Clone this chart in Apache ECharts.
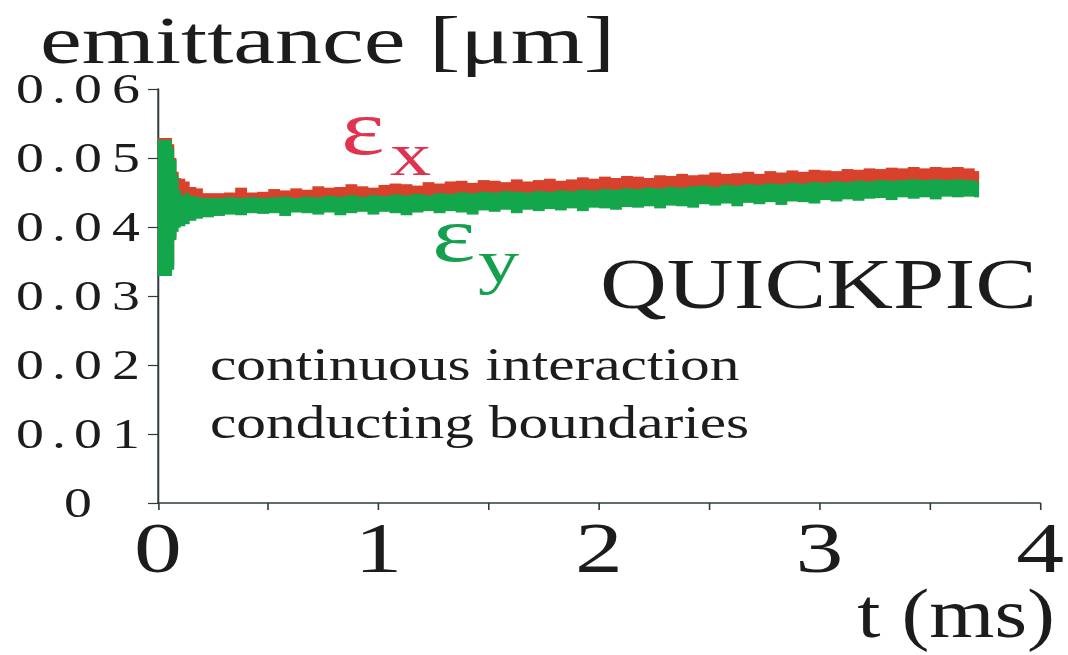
<!DOCTYPE html>
<html>
<head>
<meta charset="utf-8">
<script src="https://cdn.jsdelivr.net/npm/echarts@6/dist/echarts.min.js"></script>
<style>
  html, body { margin: 0; padding: 0; background: #ffffff; overflow: hidden; }
  #chart { height: 655px; transform-origin: 0 0; }
</style>
</head>
<body>
<div id="chart"></div>
<script>
// Sample start times (ms); each sample spans to the next start time, the last one to T_END.
const T = [0, 0.06, 0.07, 0.08, 0.09, 0.10, 0.12, 0.14, 0.17, 0.20,
  0.25, 0.30, 0.35, 0.40, 0.45, 0.50, 0.55, 0.60, 0.65, 0.70,
  0.75, 0.80, 0.85, 0.90, 0.95, 1.00, 1.05, 1.10, 1.15, 1.20,
  1.25, 1.30, 1.35, 1.40, 1.45, 1.50, 1.55, 1.60, 1.65, 1.70,
  1.75, 1.80, 1.85, 1.90, 1.95, 2.00, 2.05, 2.10, 2.15, 2.20,
  2.25, 2.30, 2.35, 2.40, 2.45, 2.50, 2.55, 2.60, 2.65, 2.70,
  2.75, 2.80, 2.85, 2.90, 2.95, 3.00, 3.05, 3.10, 3.15, 3.20,
  3.25, 3.30, 3.35, 3.40, 3.45, 3.50, 3.55, 3.60, 3.65, 3.70];
const T_END = 3.72;

// Horizontal emittance (epsilon_x): lower / upper edge of the noisy trace, in um
const exLo = [0.0335, 0.0345, 0.0385, 0.0400, 0.0440, 0.0438, 0.0440, 0.0437, 0.0436, 0.0435,
  0.0436, 0.0437, 0.0436, 0.0437, 0.0436, 0.0437, 0.0438, 0.0436, 0.0438, 0.0437,
  0.0439, 0.0438, 0.0440, 0.0438, 0.0440, 0.0439, 0.0441, 0.0440, 0.0442, 0.0440,
  0.0443, 0.0442, 0.0444, 0.0443, 0.0445, 0.0444, 0.0446, 0.0445, 0.0444, 0.0446,
  0.0445, 0.0447, 0.0446, 0.0448, 0.0447, 0.0449, 0.0448, 0.0450, 0.0449, 0.0451,
  0.0450, 0.0452, 0.0451, 0.0453, 0.0454, 0.0452, 0.0455, 0.0454, 0.0456, 0.0455,
  0.0457, 0.0456, 0.0458, 0.0457, 0.0459, 0.0458, 0.0460, 0.0459, 0.0461, 0.0460,
  0.0462, 0.0461, 0.0462, 0.0463, 0.0462, 0.0463, 0.0462, 0.0463, 0.0462, 0.0460];
const exHi = [0.0529, 0.0520, 0.0500, 0.0480, 0.0471, 0.0470, 0.0466, 0.0458, 0.0456, 0.0449,
  0.0449, 0.0450, 0.0457, 0.0450, 0.0451, 0.0455, 0.0453, 0.0456, 0.0454, 0.0459,
  0.0457, 0.0458, 0.0462, 0.0459, 0.0457, 0.0461, 0.0463, 0.0462, 0.0460, 0.0465,
  0.0463, 0.0466, 0.0467, 0.0464, 0.0468, 0.0467, 0.0465, 0.0469, 0.0466, 0.0468,
  0.0470, 0.0467, 0.0469, 0.0472, 0.0470, 0.0473, 0.0471, 0.0474, 0.0473, 0.0471,
  0.0475, 0.0474, 0.0477, 0.0475, 0.0476, 0.0479, 0.0477, 0.0478, 0.0480, 0.0477,
  0.0481, 0.0479, 0.0482, 0.0480, 0.0483, 0.0482, 0.0481, 0.0484, 0.0483, 0.0485,
  0.0484, 0.0486, 0.0485, 0.0487, 0.0485, 0.0487, 0.0486, 0.0487, 0.0485, 0.0481];

// Vertical emittance (epsilon_y): lower / upper edge of the noisy trace, in um
const eyLo = [0.0329, 0.0338, 0.0381, 0.0393, 0.0399, 0.0401, 0.0404, 0.0409, 0.0412, 0.0414,
  0.0416, 0.0418, 0.0417, 0.0420, 0.0419, 0.0420, 0.0416, 0.0421, 0.0420, 0.0418,
  0.0421, 0.0417, 0.0420, 0.0422, 0.0418, 0.0422, 0.0420, 0.0417, 0.0421, 0.0423,
  0.0420, 0.0423, 0.0421, 0.0418, 0.0424, 0.0422, 0.0425, 0.0420, 0.0425, 0.0423,
  0.0426, 0.0424, 0.0427, 0.0423, 0.0428, 0.0427, 0.0425, 0.0429, 0.0428, 0.0430,
  0.0427, 0.0431, 0.0430, 0.0428, 0.0433, 0.0431, 0.0434, 0.0430, 0.0435, 0.0433,
  0.0436, 0.0432, 0.0437, 0.0436, 0.0434, 0.0439, 0.0437, 0.0440, 0.0438, 0.0441,
  0.0442, 0.0439, 0.0443, 0.0441, 0.0443, 0.0440, 0.0444, 0.0443, 0.0444, 0.0443];
const eyHi = [0.0526, 0.0514, 0.0497, 0.0475, 0.0454, 0.0446, 0.0449, 0.0445, 0.0443, 0.0442,
  0.0442, 0.0443, 0.0442, 0.0443, 0.0442, 0.0443, 0.0444, 0.0442, 0.0444, 0.0443,
  0.0445, 0.0444, 0.0446, 0.0444, 0.0446, 0.0445, 0.0447, 0.0446, 0.0448, 0.0446,
  0.0449, 0.0448, 0.0450, 0.0449, 0.0451, 0.0450, 0.0452, 0.0451, 0.0450, 0.0452,
  0.0451, 0.0453, 0.0452, 0.0454, 0.0453, 0.0455, 0.0454, 0.0456, 0.0455, 0.0457,
  0.0456, 0.0458, 0.0457, 0.0459, 0.0460, 0.0458, 0.0461, 0.0460, 0.0462, 0.0461,
  0.0463, 0.0462, 0.0464, 0.0463, 0.0465, 0.0464, 0.0466, 0.0465, 0.0467, 0.0466,
  0.0468, 0.0467, 0.0468, 0.0469, 0.0468, 0.0469, 0.0468, 0.0469, 0.0468, 0.0466];

const X_MIN = 0, X_MAX = 4, X_STEP = 0.5;
const Y_MIN = 0, Y_MAX = 0.06, Y_STEP = 0.01;

// The figure uses a horizontally widened serif face; the whole drawing is laid
// out on a narrower canvas and widened by SX.
const SX = 1.33;
const PAGE_W = 1068, PAGE_H = 655;
const W = PAGE_W / SX;
const hx = v => v / SX;   // page x -> layout x

const el = document.getElementById('chart');
el.style.width = W + 'px';
el.style.transform = 'scaleX(' + SX + ')';

const SERIF = "'Liberation Serif', 'Times New Roman', serif";
const AXIS_COLOR = '#2c3b3a';
const TEXT_COLOR = '#1c1c1c';
const RED = '#d8412c';
const GREEN = '#13a64b';

function bandData(lo, hi) {
  return T.map((t, i) => [t, i + 1 < T.length ? T[i + 1] : T_END, lo[i], hi[i]]);
}

function bandRenderer(color) {
  return function (params, api) {
    const a = api.coord([api.value(0), api.value(3)]);
    const b = api.coord([api.value(1), api.value(2)]);
    return {
      type: 'rect',
      shape: { x: a[0], y: a[1], width: b[0] - a[0] + 0.6, height: b[1] - a[1] },
      style: { fill: color }
    };
  };
}

function yLabel(v) {
  if (v === 0) return '{d|0}';
  return v.toFixed(2).split('').map(c => c === '.' ? '{p|.}' : '{d|' + c + '}').join('');
}

function label(text, px, y, size, color, extra) {
  return Object.assign({
    type: 'text', x: hx(px), y: y,
    style: { text: text, font: size + 'px ' + SERIF, fill: color, verticalAlign: 'middle' }
  }, extra || {});
}

const chart = echarts.init(el, null, { renderer: 'svg', width: W, height: PAGE_H });

chart.setOption({
  animation: false,
  backgroundColor: '#ffffff',
  grid: { left: hx(158), right: W - hx(1050), top: 89, bottom: PAGE_H - 503, containLabel: false },
  xAxis: {
    type: 'value', min: X_MIN, max: X_MAX, interval: X_STEP,
    splitLine: { show: false },
    axisLine: { lineStyle: { color: AXIS_COLOR, width: 1.5 } },
    axisTick: { length: 7, lineStyle: { color: AXIS_COLOR, width: 1.2 } },
    axisLabel: {
      margin: 9, fontFamily: SERIF, fontSize: 72, color: TEXT_COLOR,
      formatter: v => Number.isInteger(v) ? String(v) : ''
    }
  },
  yAxis: {
    type: 'value', min: Y_MIN, max: Y_MAX, interval: Y_STEP,
    splitLine: { show: false },
    axisLine: { show: true, lineStyle: { color: AXIS_COLOR, width: 1.5 } },
    axisTick: { show: true, length: hx(10), lineStyle: { color: AXIS_COLOR, width: 1.2 } },
    axisLabel: {
      margin: hx(158 - 78), align: 'center', color: TEXT_COLOR,
      formatter: yLabel,
      rich: {
        d: { fontFamily: SERIF, fontSize: 42, lineHeight: 30, color: TEXT_COLOR, width: hx(38), align: 'center' },
        p: { fontFamily: SERIF, fontSize: 42, lineHeight: 30, color: TEXT_COLOR, width: hx(20), align: 'center' }
      }
    }
  },
  series: [
    {
      name: 'εx', type: 'custom', renderItem: bandRenderer(RED),
      encode: { x: [0, 1], y: [2, 3] }, data: bandData(exLo, exHi), z: 2
    },
    {
      name: 'εy', type: 'custom', renderItem: bandRenderer(GREEN),
      encode: { x: [0, 1], y: [2, 3] }, data: bandData(eyLo, eyHi), z: 3
    }
  ],
  graphic: [
    label('emittance [μm]', 40, 40, 68, TEXT_COLOR, { scaleX: 1.04 }),
    label('ε', 341, 128, 78, '#df3350'),
    label('x', 390, 154, 62, '#df3350'),
    label('ε', 432, 235, 78, '#15a04f'),
    label('y', 478, 261, 62, '#15a04f'),
    label('QUICKPIC', 600, 284, 71, TEXT_COLOR, { scaleX: 0.98 }),
    label('continuous interaction', 210, 364, 47, TEXT_COLOR, { scaleX: 0.95 }),
    label('conducting boundaries', 210, 422, 47, TEXT_COLOR, { scaleX: 0.95 }),
    {
      type: 'text', x: hx(1055), y: 613, scaleX: 0.9,
      style: { text: 't (ms)', font: '70px ' + SERIF, lineHeight: 60, fill: TEXT_COLOR, align: 'right', verticalAlign: 'middle' }
    }
  ]
});
</script>
</body>
</html>
